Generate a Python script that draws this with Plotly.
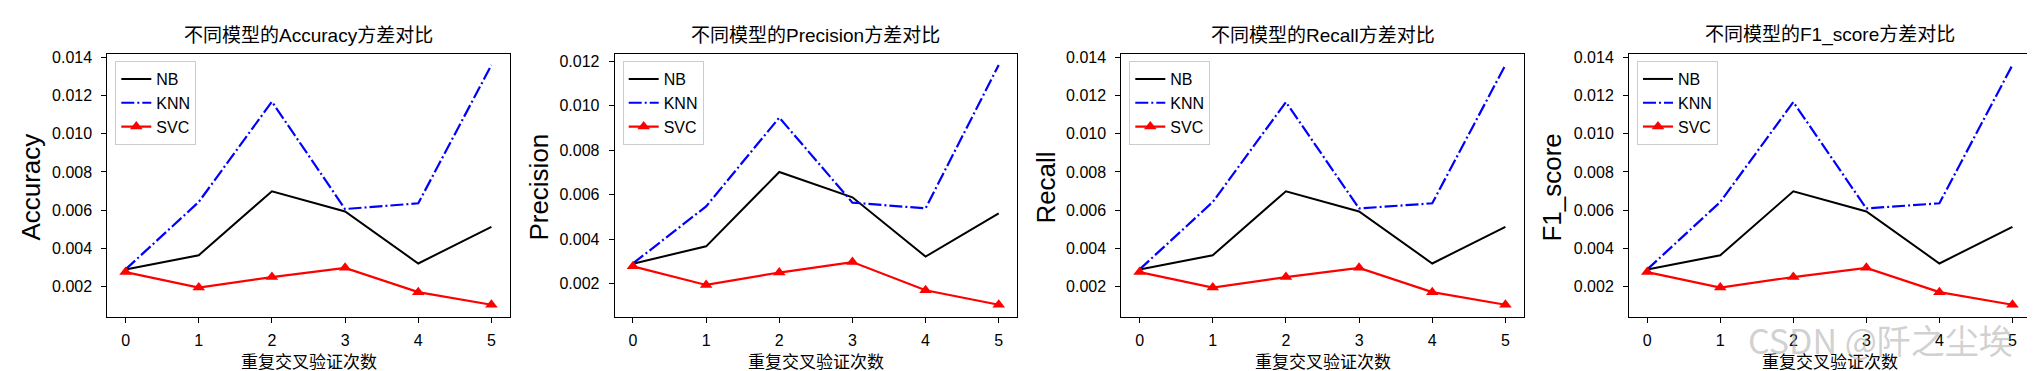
import plotly.graph_objects as go
from plotly.subplots import make_subplots

# ---------------- data ----------------
folds = [0, 1, 2, 3, 4, 5]
metric_names = ["Accuracy", "Precision", "Recall", "F1_score"]

nb_accuracy = [0.00290, 0.00364, 0.00699, 0.00593, 0.00321, 0.00513]
knn_accuracy = [0.00290, 0.00643, 0.01168, 0.00606, 0.00636, 0.01360]
svc_accuracy = [0.00276, 0.00195, 0.00250, 0.00298, 0.00171, 0.00105]

nb_precision = [0.00289, 0.00367, 0.00702, 0.00588, 0.00321, 0.00516]
knn_precision = [0.00290, 0.00547, 0.00947, 0.00564, 0.00538, 0.01184]
svc_precision = [0.00277, 0.00193, 0.00249, 0.00296, 0.00169, 0.00104]

nb_recall = [0.00290, 0.00364, 0.00699, 0.00593, 0.00321, 0.00513]
knn_recall = [0.00290, 0.00643, 0.01166, 0.00609, 0.00636, 0.01360]
svc_recall = [0.00276, 0.00195, 0.00250, 0.00298, 0.00171, 0.00105]

nb_f1 = [0.00290, 0.00364, 0.00699, 0.00593, 0.00321, 0.00513]
knn_f1 = [0.00290, 0.00643, 0.01166, 0.00609, 0.00636, 0.01360]
svc_f1 = [0.00276, 0.00195, 0.00250, 0.00298, 0.00171, 0.00105]

nb_series = [nb_accuracy, nb_precision, nb_recall, nb_f1]
knn_series = [knn_accuracy, knn_precision, knn_recall, knn_f1]
svc_series = [svc_accuracy, svc_precision, svc_recall, svc_f1]

y_ranges = [[0.00040, 0.01417], [0.00048, 0.01233], [0.00040, 0.01417], [0.00040, 0.01417]]
x_label = "重复交叉验证次数"
title_fmt = "不同模型的{}方差对比"
watermark = "CSDN @阡之尘埃"

# ---------------- layout geometry ----------------
W, H = 2035, 371
ax_left = [99.3, 606.7, 1113.3, 1621.0]
ax_right = [501.7, 1009.0, 1515.7, 2022.7]
ax_top, ax_bottom = 41.7, 308.3
ylab_x = [23, 531, 1038, 1544]

CJK = "Noto Sans CJK SC"
LAT = "Liberation Sans, Noto Sans CJK SC"

fig = make_subplots(rows=1, cols=4)

for i in range(4):
    leg = "legend" if i == 0 else f"legend{i+1}"
    fig.add_trace(go.Scatter(x=folds, y=nb_series[i], mode="lines", name="NB",
                             line=dict(color="black", width=2), legend=leg),
                  row=1, col=i + 1)
    fig.add_trace(go.Scatter(x=folds, y=knn_series[i], mode="lines", name="KNN",
                             line=dict(color="blue", width=2.2, dash="13px,3px,2px,3px"),
                             legend=leg),
                  row=1, col=i + 1)
    fig.add_trace(go.Scatter(x=folds, y=svc_series[i], mode="lines+markers", name="SVC",
                             line=dict(color="red", width=2.2),
                             marker=dict(symbol="triangle-up", size=11, color="red"),
                             legend=leg),
                  row=1, col=i + 1)

layout = dict(
    width=W, height=H, autosize=False,
    margin=dict(l=0, r=0, t=0, b=0),
    paper_bgcolor="white", plot_bgcolor="white",
    font=dict(family=LAT, size=15, color="black"),
)

annotations = []
ydom = [1 - ax_bottom / H, 1 - ax_top / H]
for i in range(4):
    xa = "xaxis" if i == 0 else f"xaxis{i+1}"
    ya = "yaxis" if i == 0 else f"yaxis{i+1}"
    leg = "legend" if i == 0 else f"legend{i+1}"
    dom = [ax_left[i] / W, ax_right[i] / W]
    layout[xa] = dict(domain=dom, range=[-0.25, 5.25], tickmode="array", tickvals=folds,
                      ticks="outside", ticklen=5, tickwidth=1, tickcolor="black",
                      showline=True, linecolor="black", linewidth=1, mirror=True,
                      showgrid=False, zeroline=False, ticklabelstandoff=4,
                      tickfont=dict(family=LAT, size=16, color="black"))
    layout[ya] = dict(domain=ydom, range=y_ranges[i], dtick=0.002, tick0=0,
                      tickformat=".3f",
                      ticks="outside", ticklen=5, tickwidth=1, tickcolor="black",
                      showline=True, linecolor="black", linewidth=1, mirror=True,
                      showgrid=False, zeroline=False, ticklabelstandoff=6,
                      tickfont=dict(family=LAT, size=16, color="black"))
    layout[leg] = dict(x=(ax_left[i] + 8) / W, y=1 - (ax_top + 7) / H,
                       xanchor="left", yanchor="top",
                       bgcolor="white", bordercolor="#cccccc", borderwidth=1,
                       font=dict(family=LAT, size=16, color="black"))
    cx = (ax_left[i] + ax_right[i]) / 2 / W
    annotations.append(dict(text=title_fmt.format(metric_names[i]), x=cx, y=1 - 22.5 / H,
                            xref="paper", yref="paper", showarrow=False,
                            xanchor="center", yanchor="middle",
                            font=dict(family=LAT, size=19, color="black")))
    annotations.append(dict(text=x_label, x=cx, y=1 - 352 / H,
                            xref="paper", yref="paper", showarrow=False,
                            xanchor="center", yanchor="middle",
                            font=dict(family=CJK, size=17, color="black")))
    annotations.append(dict(text=metric_names[i], x=ylab_x[i] / W, y=1 - 177 / H,
                            xref="paper", yref="paper", showarrow=False, textangle=-90,
                            xanchor="center", yanchor="middle",
                            font=dict(family="Liberation Sans", size=26, color="black")))

annotations.append(dict(text=watermark, x=1872 / W, y=1 - 331 / H,
                        xref="paper", yref="paper", showarrow=False,
                        xanchor="center", yanchor="middle",
                        font=dict(family=CJK, size=34, color="rgba(170,170,170,0.55)")))
layout["annotations"] = annotations

fig.update_layout(**layout)
fig.write_html("out.html")
